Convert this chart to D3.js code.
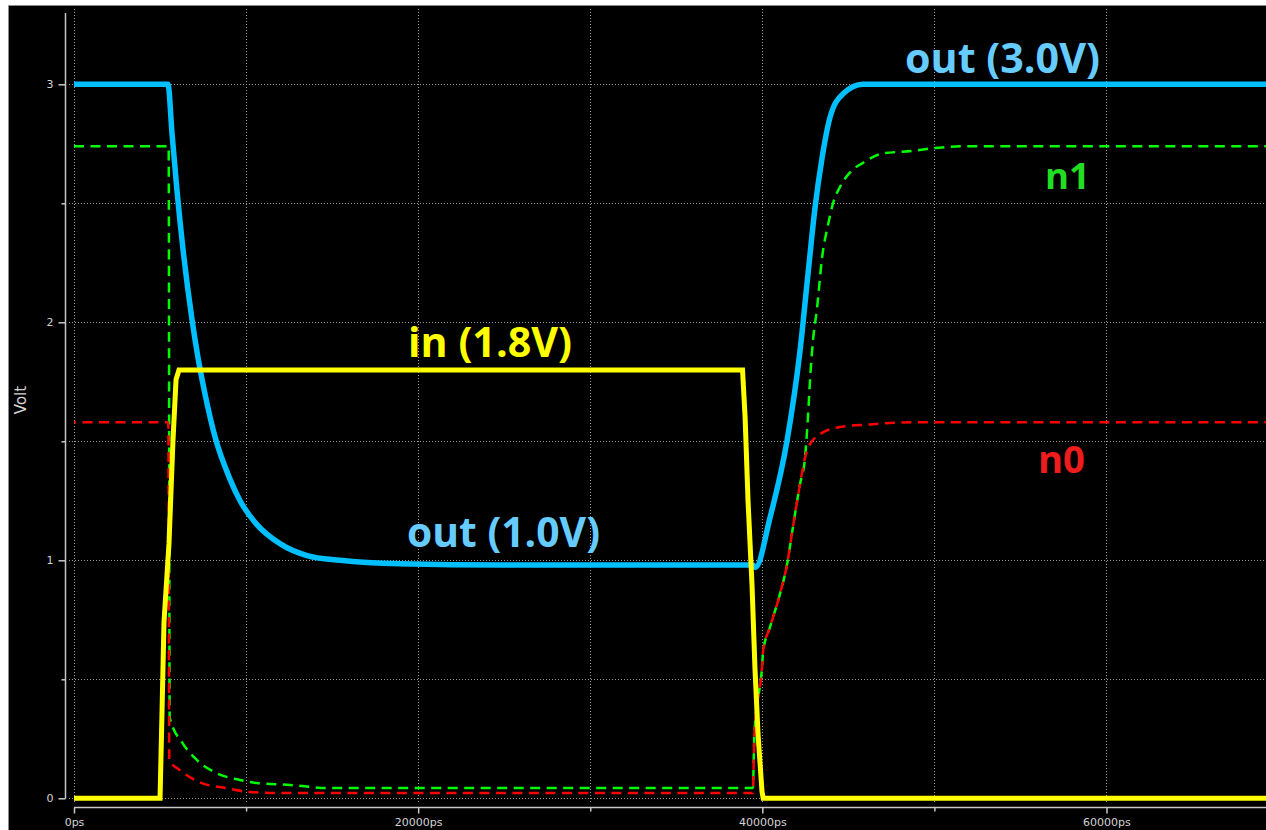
<!DOCTYPE html>
<html>
<head>
<meta charset="utf-8">
<script src="https://cdn.jsdelivr.net/npm/d3@7"></script>
<style>
  html, body { margin: 0; padding: 0; background: #fff; }
  svg { display: block; }
</style>
</head>
<body>
<svg id="chart" width="1266" height="830"></svg>
<script>
// time in ps, value in volt
const inWave = [[0,0],[5000,0],[5120,0.38],[5230,0.74],[5520,1.07],[5750,1.5],[5930,1.76],[6100,1.8],
  [38850,1.8],[39000,1.6],[39170,1.25],[39400,0.9],[39570,0.55],[39750,0.27],[39980,0.03],[40050,0],[69270,0]];

const outWave = [[0,3],[5460,3],[5700,2.79],[5990,2.55],[6330,2.31],[6860,2.01],[7210,1.85],[7610,1.7],
  [8190,1.52],[9070,1.34],[9650,1.25],[10630,1.15],[11970,1.07],[13540,1.02],[15460,1.0],
  [18940,0.985],[25000,0.98],[39450,0.98],[39600,0.97],[40450,1.18],[41430,1.5],[42190,1.88],[42650,2.2],
  [43060,2.48],[43470,2.69],[43930,2.86],[44690,2.96],[45850,3.0],[69270,3.0]];

const n1Wave = [[0,2.74],[5500,2.74],[5560,0.34],[6330,0.23],[7150,0.16],[8310,0.105],[9650,0.077],
  [10630,0.064],[12550,0.056],[14880,0.043],[39450,0.043],[39540,0.27],[39980,0.55],[40050,0.62],
  [40450,0.72],[41030,0.86],[41430,0.98],[41780,1.14],[42190,1.32],[42480,1.43],[42650,1.6],[42800,1.79],
  [42940,1.92],[43180,2.06],[43470,2.27],[43820,2.41],[44110,2.5],[44520,2.57],[45100,2.63],[45850,2.67],
  [47010,2.71],[48750,2.72],[49740,2.73],[52000,2.74],[69270,2.74]];

const n0Wave = [[0,1.58],[5480,1.58],[5540,0.16],[6160,0.118],[7320,0.067],[8890,0.042],[10230,0.026],
  [12000,0.022],[39450,0.022],[39540,0.27],[39980,0.55],[40050,0.62],[40450,0.72],[41030,0.86],
  [41430,0.98],[41780,1.14],[42190,1.32],[42480,1.43],[42650,1.47],[43350,1.53],[44510,1.56],
  [46080,1.57],[48750,1.58],[69270,1.58]];

const xTicks = [0, 10000, 20000, 30000, 40000, 50000, 60000];
const yTicks = [0, 0.5, 1, 1.5, 2, 2.5, 3];

const labelText = ["out (3.0V)", "in (1.8V)", "out (1.0V)", "n1", "n0"];

const svg = d3.select("#chart");
const W = 1266, H = 830;

const x = d3.scaleLinear().domain([0, 69270]).range([74, 1266]);
const y = d3.scaleLinear().domain([0, 3]).range([798.3, 84.3]);

// black screen area with grey frame
svg.append("rect").attr("x", 9).attr("y", 6).attr("width", W - 9).attr("height", H - 6).attr("fill", "#000");
svg.append("path").attr("d", "M8.5," + H + "V5.5H" + W).attr("fill", "none").attr("stroke", "#8a8a8a").attr("stroke-width", 1);

// dotted grid
const grid = svg.append("g").attr("stroke", "#9a9a9a").attr("stroke-width", 1).attr("stroke-dasharray", "1,2");
grid.selectAll(".gy").data(yTicks).enter().append("line")
  .attr("x1", 69).attr("x2", W)
  .attr("y1", d => Math.round(y(d)) + 0.5).attr("y2", d => Math.round(y(d)) + 0.5);
grid.selectAll(".gx").data(xTicks).enter().append("line")
  .attr("x1", d => Math.round(x(d)) + 0.5).attr("x2", d => Math.round(x(d)) + 0.5)
  .attr("y1", 9).attr("y2", 803);

// y axis
const yAxis = svg.append("g").attr("transform", "translate(65.5,0)")
  .call(d3.axisLeft(y).tickValues(yTicks)
    .tickFormat(d => Number.isInteger(d) ? d : "")
    .tickSizeOuter(0).tickPadding(6));
yAxis.select(".domain").remove();
yAxis.append("line").attr("x1", 0).attr("x2", 0).attr("y1", 13).attr("y2", y(0) + 0.5);
yAxis.selectAll(".tick line").attr("x2", d => Number.isInteger(d) ? -7 : -4);
yAxis.selectAll("line").attr("stroke", "#c8c8c8").attr("stroke-width", 1.5);
yAxis.selectAll("text").attr("fill", "#d4d4d4").attr("font-family", "DejaVu Sans").attr("font-size", 11);

// x axis
const xAxis = svg.append("g").attr("transform", "translate(0,807.5)")
  .call(d3.axisBottom(x).tickValues(xTicks)
    .tickFormat(d => d % 20000 === 0 ? d + "ps" : "")
    .tickSizeOuter(0));
xAxis.select(".domain").remove();
xAxis.append("line").attr("x1", x(0)).attr("x2", W).attr("y1", 0).attr("y2", 0);
xAxis.selectAll(".tick line").attr("y2", d => d % 20000 === 0 ? 6 : 4);
xAxis.selectAll("line").attr("stroke", "#c8c8c8").attr("stroke-width", 1.5);
xAxis.selectAll("text").attr("y", 11).attr("fill", "#d4d4d4")
  .attr("font-family", "DejaVu Sans").attr("font-size", 11);

svg.append("text")
  .attr("transform", "translate(26,400) rotate(-90)")
  .attr("text-anchor", "middle")
  .attr("font-family", "DejaVu Sans").attr("font-size", 15)
  .attr("fill", "#d4d4d4")
  .text("Volt");

// waveforms
const line = d3.line().x(d => x(d[0])).y(d => y(d[1])).curve(d3.curveMonotoneX);
const plot = svg.append("g");

plot.append("path").datum(n1Wave).attr("d", line)
  .attr("fill", "none").attr("stroke", "#00ff00").attr("stroke-width", 2.5).attr("stroke-dasharray", "10,6.5");
plot.append("path").datum(n0Wave).attr("d", line)
  .attr("fill", "none").attr("stroke", "#ff0000").attr("stroke-width", 2.5).attr("stroke-dasharray", "10,6.5")
  .attr("stroke-dashoffset", 8);
plot.append("path").datum(outWave).attr("d", line)
  .attr("fill", "none").attr("stroke", "#00bfff").attr("stroke-width", 5.5).attr("stroke-linejoin", "round");
plot.append("path").datum(inWave).attr("d", d3.line().x(d => x(d[0])).y(d => y(d[1])))
  .attr("fill", "none").attr("stroke", "#ffff00").attr("stroke-width", 5).attr("stroke-linejoin", "miter");

// annotations: [left px, right px, baseline px, colour]
const labelBox = [
  [905, 1100, 73, "#66ccff"],
  [408, 572, 357, "#ffff00"],
  [407, 600, 547, "#66ccff"],
  [1045, 1090, 189, "#22dd22"],
  [1038, 1085, 473, "#ee1c1c"]
];
labelText.forEach((t, i) => {
  const b = labelBox[i];
  const txt = svg.append("text")
    .attr("x", b[0]).attr("y", b[2])
    .attr("font-family", "Open Sans").attr("font-weight", "bold")
    .attr("font-size", 40).attr("fill", b[3])
    .text(t);
  const w = txt.node().getComputedTextLength();
  txt.attr("font-size", 40 * (b[1] - b[0]) / w);
});
</script>
</body>
</html>
